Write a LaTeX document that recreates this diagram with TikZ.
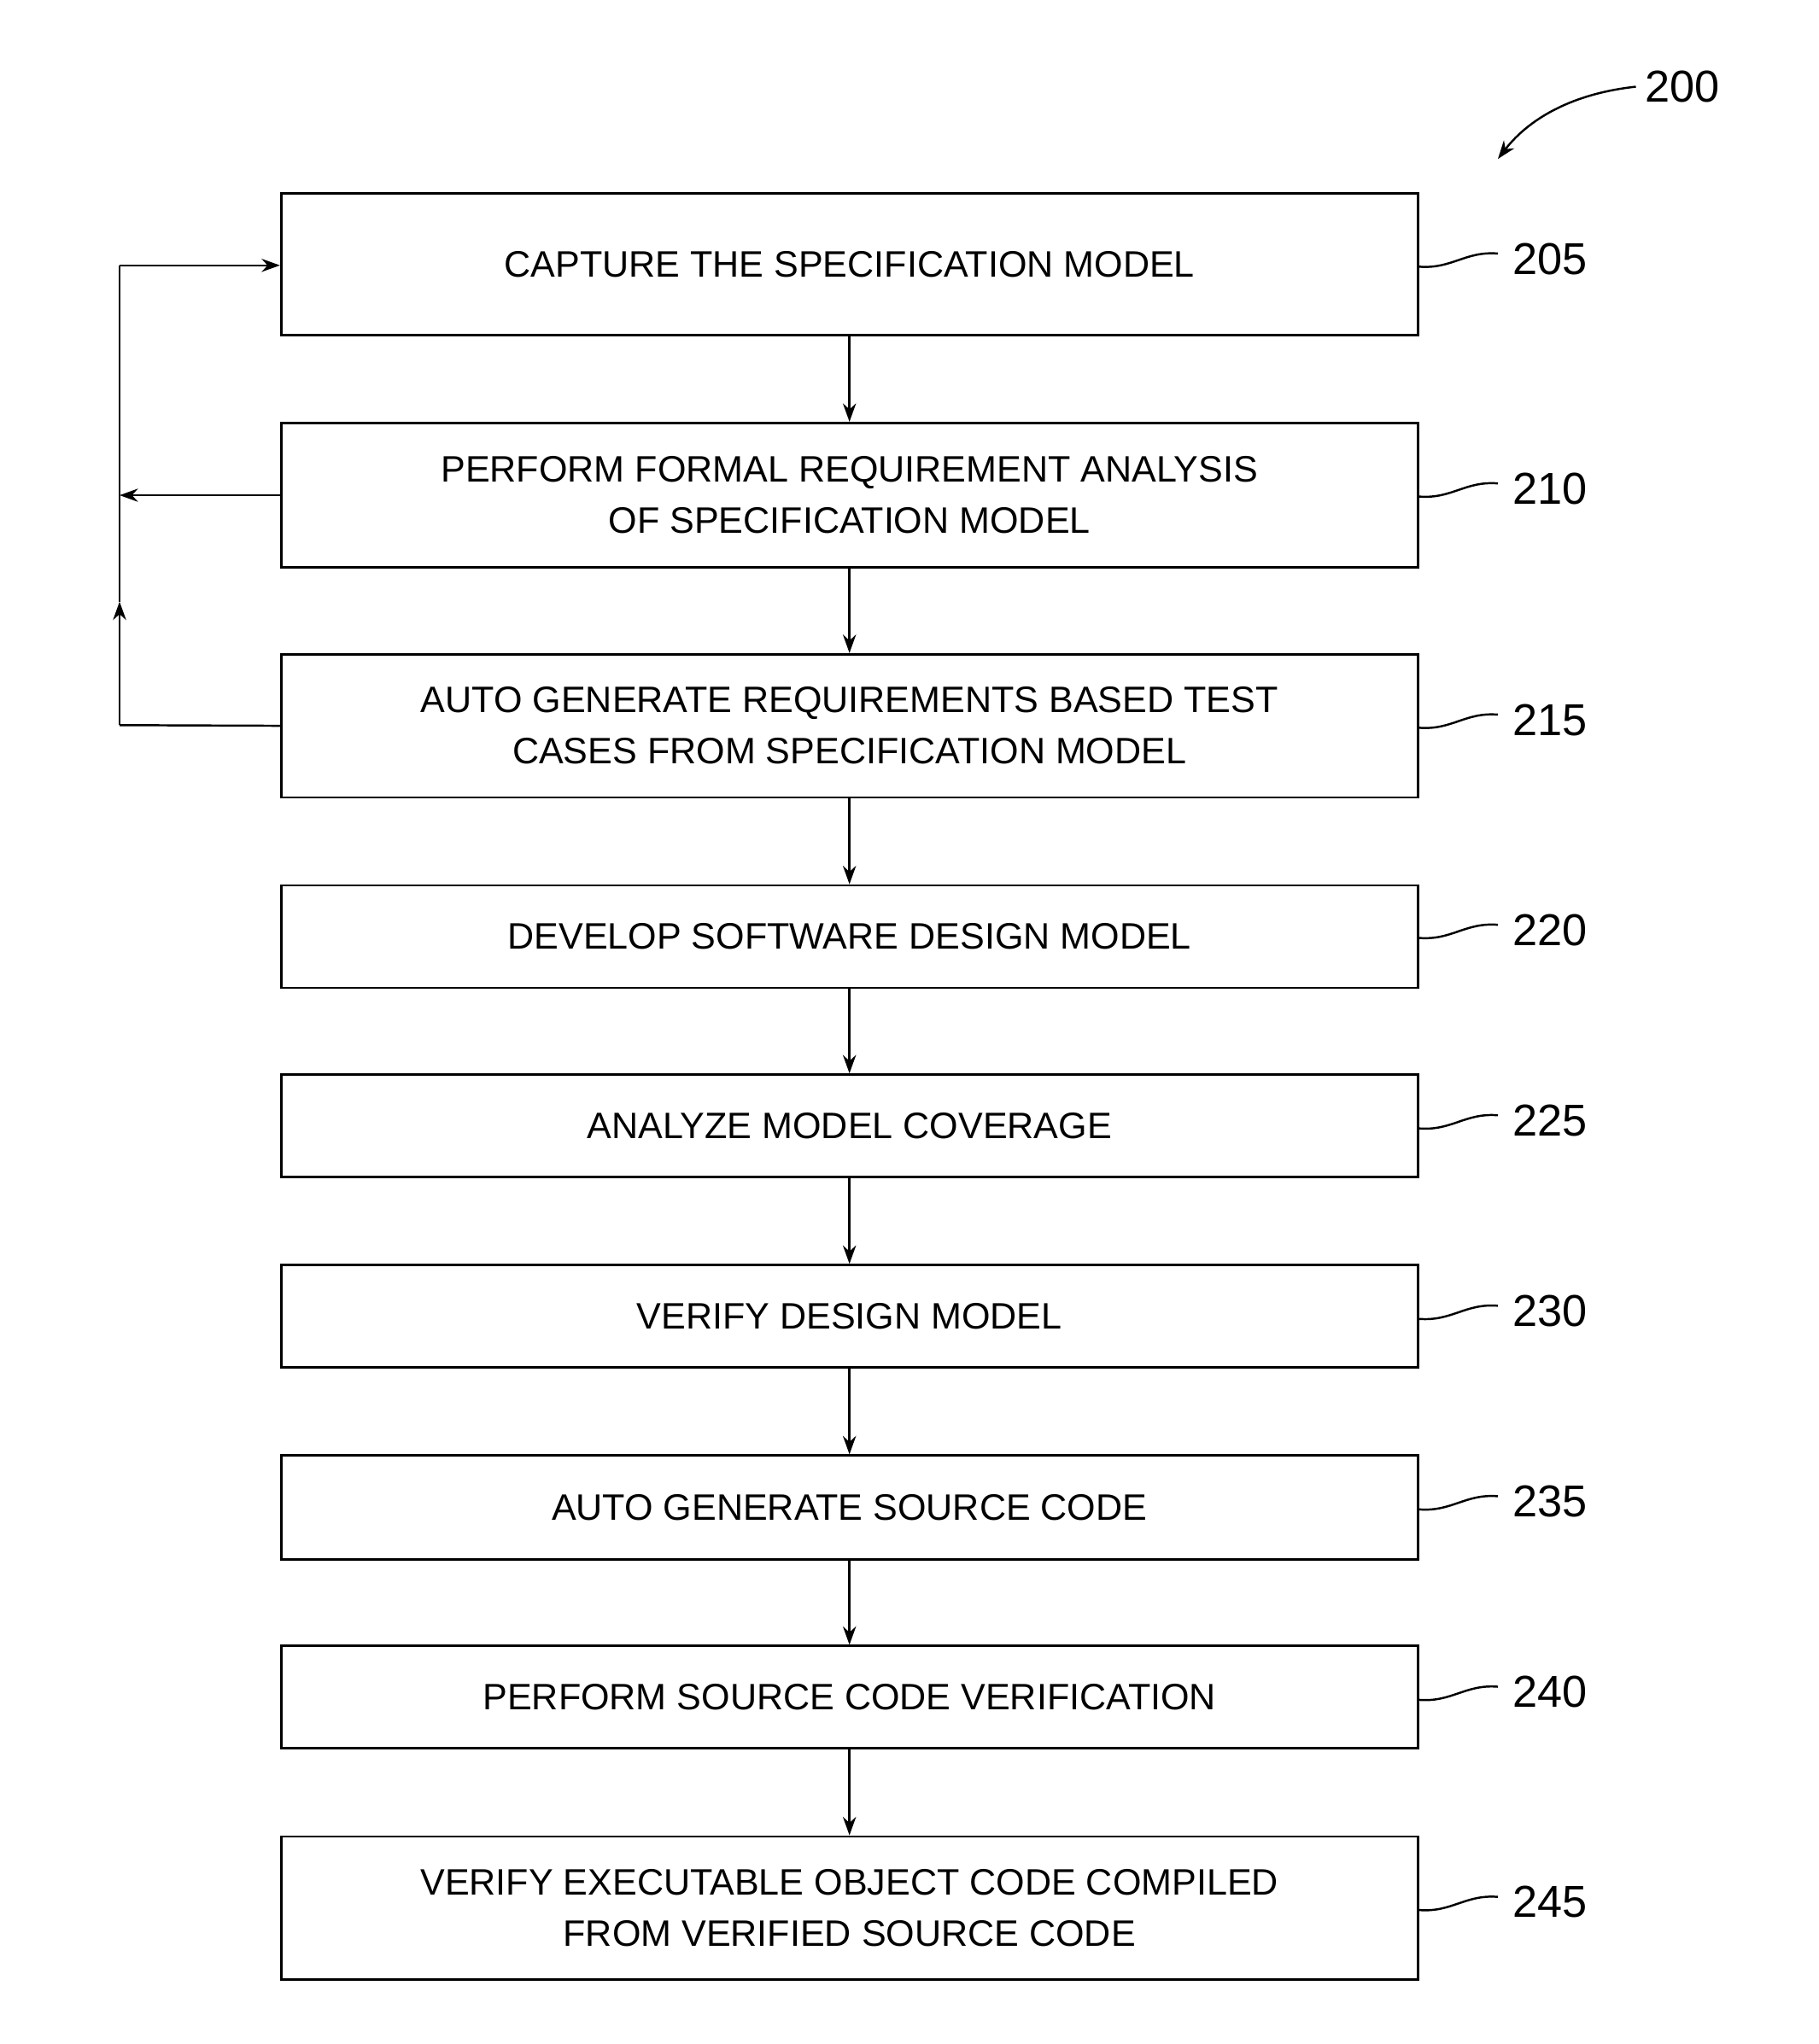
\documentclass[tikz,border=0pt]{standalone}
\usepackage{fontspec}
\setmainfont{Liberation Sans}
\usetikzlibrary{arrows.meta}
\begin{document}
\begin{tikzpicture}[x=0.5pt,y=-0.5pt,
  box/.style={draw,line width=0.9pt,minimum width=432.5pt,align=center,font=\fontsize{14}{19.5}\selectfont,inner sep=0pt},
  lab/.style={font=\fontsize{17}{20}\selectfont,anchor=west},
  arr/.style={-{Stealth[length=7pt,width=5pt]},line width=0.8pt},
  ln/.style={line width=0.8pt}]
\useasboundingbox (0,0) rectangle (1384,1556);
\def\mk#1#2#3#4{\node[box,minimum height=#3*0.5pt] (b#1) at (646.5,#2) {#4};}
\mk{205}{201}{108}{CAPTURE THE SPECIFICATION MODEL}
\mk{210}{377}{110}{PERFORM FORMAL REQUIREMENT ANALYSIS\\OF SPECIFICATION MODEL}
\mk{215}{552.5}{109}{AUTO GENERATE REQUIREMENTS BASED TEST\\CASES FROM SPECIFICATION MODEL}
\mk{220}{713}{78}{DEVELOP SOFTWARE DESIGN MODEL}
\mk{225}{857}{78}{ANALYZE MODEL COVERAGE}
\mk{230}{1002}{78}{VERIFY DESIGN MODEL}
\mk{235}{1147.5}{79}{AUTO GENERATE SOURCE CODE}
\mk{240}{1292}{78}{PERFORM SOURCE CODE VERIFICATION}
\mk{245}{1452.5}{109}{VERIFY EXECUTABLE OBJECT CODE COMPILED\\FROM VERIFIED SOURCE CODE}
\foreach \a/\b in {205/210,210/215,215/220,220/225,225/230,230/235,235/240,240/245}
  \draw[arr] (b\a.south) -- (b\b.north);
\foreach \n/\y in {205/197,210/372,215/548,220/708,225/853,230/998,235/1143,240/1288,245/1448}{
  \draw[ln] (b\n.east |- 0,\y+6) .. controls (1105,\y+8) and (1115,\y-6) .. (1140,\y-4) coordinate (q\n);
  \node[lab] at (1144,\y) {\n};}
% feedback
\coordinate (c1) at (91,552);
\coordinate (c2) at (91,458);
\coordinate (c3) at (91,202);
\coordinate (c4) at (91,377);
\draw[ln] (b215.west) -- (c1);
\draw[arr] (c1) -- (c2);
\draw[ln] (c2) -- (c3);
\draw[arr] (c3) -- (b205.west |- c3);
\draw[arr] (b210.west) -- (c4);
% 200
\node[lab] (n200) at (1245,66) {200};
\coordinate (t200) at (1140,121);
\draw[arr] (n200.west) .. controls (1190,72) and (1160,95) .. (t200);
\end{tikzpicture}
\end{document}
